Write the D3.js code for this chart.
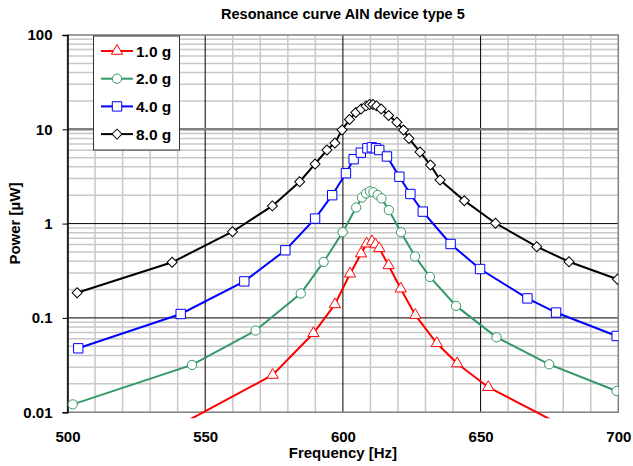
<!DOCTYPE html>
<html>
<head>
<meta charset="utf-8">
<script src="https://cdn.jsdelivr.net/npm/d3@7"></script>
<style>
  body { margin: 0; background: #fff; }
  svg text { font-family: "Liberation Sans", Arial, sans-serif; font-weight: bold; fill: #000; }
</style>
</head>
<body>
<svg id="chart" width="633" height="466"></svg>
<script>
// values
const freq1g = [541, 574.5, 589.3, 597.1, 602.6, 606.6, 608.6, 610.6, 611.8, 613.2, 616.6, 621.0, 626.3, 634.1, 641.5, 652.8, 677.4];
const power1g = [0.0074, 0.0248, 0.0687, 0.139, 0.294, 0.48, 0.612, 0.646, 0.60, 0.547, 0.36, 0.204, 0.107, 0.0538, 0.0328, 0.0184, 0.0078];

const freq2g = [501.9, 545.2, 568.3, 584.7, 593.0, 599.9, 604.8, 606.9, 608.4, 609.8, 611.1, 612.6, 614.0, 616.7, 621.1, 626.2, 631.6, 641.1, 655.8, 674.9, 699.4];
const power2g = [0.0121, 0.0317, 0.0735, 0.1815, 0.392, 0.811, 1.48, 1.89, 2.09, 2.20, 2.15, 2.01, 1.85, 1.39, 0.809, 0.448, 0.272, 0.134, 0.0623, 0.0322, 0.0168];

const freq4g = [503.9, 541.1, 564.2, 579.1, 589.9, 596.1, 601.1, 603.9, 606.5, 608.9, 610.5, 612.0, 613.2, 616.0, 620.5, 624.5, 629.0, 639.1, 649.8, 667.0, 677.4, 699.4];
const power4g = [0.0476, 0.110, 0.244, 0.521, 1.13, 2.00, 3.42, 4.82, 5.65, 6.29, 6.44, 6.29, 6.03, 5.15, 3.14, 2.06, 1.34, 0.608, 0.330, 0.161, 0.114, 0.0643];

const freq8g = [503.5, 538.0, 559.9, 574.4, 584.3, 589.9, 594.2, 597.1, 599.7, 602.4, 604.7, 606.6, 608.4, 609.7, 610.9, 612.2, 613.9, 616.6, 619.6, 622.0, 624.0, 628.0, 631.8, 635.3, 644.1, 655.4, 670.4, 682.1, 699.7];
const power8g = [0.185, 0.389, 0.82, 1.54, 2.78, 4.29, 6.03, 7.16, 9.84, 12.7, 15.1, 16.4, 17.7, 18.3, 18.3, 17.7, 16.4, 14.0, 11.9, 9.84, 7.98, 5.75, 4.18, 2.90, 1.75, 1.01, 0.569, 0.394, 0.257];

const seriesNames = ["1.0 g", "2.0 g", "4.0 g", "8.0 g"];
const seriesColors = ["#ff0000", "#339966", "#0000ff", "#000000"];
const seriesMarkers = ["triangle", "circle", "square", "diamond"];

const xTicks = [500, 550, 600, 650, 700];
const yTicks = [0.01, 0.1, 1, 10, 100];
const yTickLabels = ["0.01", "0.1", "1", "10", "100"];

const series = [
	{ f: freq1g, p: power1g },
	{ f: freq2g, p: power2g },
	{ f: freq4g, p: power4g },
	{ f: freq8g, p: power8g }
].map((s, i) => ({
	name: seriesNames[i],
	color: seriesColors[i],
	marker: seriesMarkers[i],
	values: s.f.map((f, j) => ({ f: f, p: s.p[j] }))
}));

const plotLeft = 67.5, plotRight = 618.3, plotTop = 35, plotBottom = 412.2;

const svg = d3.select('#chart');

const x = d3.scaleLinear().domain([500, 700]).range([plotLeft, plotRight]);
const y = d3.scaleLog().domain([0.01, 100]).range([plotBottom, plotTop]);

// title
svg.append('text')
	.attr('x', (plotLeft + plotRight) / 2)
	.attr('y', 19)
	.attr('text-anchor', 'middle')
	.style('font-size', '14.5px')
	.text('Resonance curve AIN device type 5');

// grid
const grid = svg.append('g').attr('id', 'grid');

const minorX = d3.range(510, 700, 10).filter(v => v % 50 !== 0);
grid.selectAll('.vminor')
	.data(minorX)
	.enter().append('line')
	.attr('x1', d => x(d)).attr('x2', d => x(d))
	.attr('y1', plotTop).attr('y2', plotBottom)
	.attr('stroke', '#c8c8c8')
	.attr('stroke-width', 1.5);

const minorY = [];
yTicks.slice(0, -1).forEach(d => {
	for (let k = 2; k <= 9; k++) minorY.push(d * k);
});
grid.selectAll('.hminor')
	.data(minorY)
	.enter().append('line')
	.attr('x1', plotLeft).attr('x2', plotRight)
	.attr('y1', d => y(d)).attr('y2', d => y(d))
	.attr('stroke', '#c8c8c8')
	.attr('stroke-width', 1.5);

grid.selectAll('.vmajor')
	.data(xTicks.slice(1, -1))
	.enter().append('line')
	.attr('x1', d => x(d)).attr('x2', d => x(d))
	.attr('y1', plotTop).attr('y2', plotBottom)
	.attr('stroke', '#000')
	.attr('stroke-width', 1);

grid.selectAll('.hmajor')
	.data(yTicks.slice(1, -1))
	.enter().append('line')
	.attr('x1', plotLeft).attr('x2', plotRight)
	.attr('y1', d => y(d)).attr('y2', d => y(d))
	.attr('stroke', d => d === 10 ? '#808080' : '#000')
	.attr('stroke-width', d => d === 10 ? 2.5 : 1);

// plot border
svg.append('rect')
	.attr('x', plotLeft).attr('y', plotTop)
	.attr('width', plotRight - plotLeft).attr('height', plotBottom - plotTop)
	.attr('fill', 'none')
	.attr('stroke', '#808080')
	.attr('stroke-width', 1.5);

// axes
const yAxis = svg.append('g')
	.attr('transform', `translate(${plotLeft},0)`)
	.call(d3.axisLeft(y)
		.tickValues(yTicks)
		.tickFormat((d, i) => yTickLabels[i])
		.tickSize(5)
		.tickPadding(10));
yAxis.selectAll('text').style('font-size', '15px');
yAxis.selectAll('line').attr('stroke', '#000');
yAxis.select('.domain').attr('stroke', '#000').attr('stroke-width', 1.5);

const xAxis = svg.append('g')
	.attr('transform', `translate(0,${plotBottom})`)
	.call(d3.axisBottom(x)
		.tickValues(xTicks)
		.tickFormat(d3.format('d'))
		.tickSize(0)
		.tickPadding(19));
xAxis.selectAll('text').style('font-size', '15px');
xAxis.select('.domain').remove();

svg.append('text')
	.attr('x', (plotLeft + plotRight) / 2)
	.attr('y', 458)
	.attr('text-anchor', 'middle')
	.style('font-size', '15px')
	.text('Frequency [Hz]');

svg.append('text')
	.attr('transform', `translate(19.5,${(plotTop + plotBottom) / 2}) rotate(-90)`)
	.attr('text-anchor', 'middle')
	.style('font-size', '15px')
	.text('Power [µW]');

// clip for the curves (a few px of overshoot below the bottom, like the original)
svg.append('clipPath').attr('id', 'plotclip')
	.append('rect')
	.attr('x', plotLeft).attr('y', plotTop)
	.attr('width', plotRight - plotLeft).attr('height', plotBottom - plotTop + 6);

function markerPath(type) {
	if (type === 'triangle') return d3.symbol(d3.symbolTriangle, 55)();
	if (type === 'circle') return d3.symbol(d3.symbolCircle, 68)();
	if (type === 'square') return d3.symbol(d3.symbolSquare, 88)();
	return d3.symbol(d3.symbolSquare, 50)();
}

const line = d3.line()
	.x(d => x(d.f))
	.y(d => y(d.p));

const plot = svg.append('g').attr('clip-path', 'url(#plotclip)');

series.forEach(s => {
	plot.append('path')
		.datum(s.values)
		.attr('d', line)
		.attr('fill', 'none')
		.attr('stroke', s.color)
		.attr('stroke-width', 2);

	plot.selectAll(null)
		.data(s.values.filter(d => d.p >= 0.01))
		.enter().append('path')
		.attr('d', markerPath(s.marker))
		.attr('transform', d => `translate(${x(d.f)},${y(d.p)})` + (s.marker === 'diamond' ? ' rotate(45)' : ''))
		.attr('fill', '#fff')
		.attr('stroke', s.color)
		.attr('stroke-width', 1);
});

// legend
const legend = svg.append('g').attr('id', 'legend');
legend.append('rect')
	.attr('x', 93.5).attr('y', 36)
	.attr('width', 86).attr('height', 114)
	.attr('fill', '#fff')
	.attr('stroke', '#333')
	.attr('stroke-width', 1);

const items = legend.selectAll('.item')
	.data(series)
	.enter().append('g')
	.attr('transform', (d, i) => `translate(0,${51 + i * 27.7})`);

items.append('line')
	.attr('x1', 101).attr('x2', 133)
	.attr('stroke', d => d.color)
	.attr('stroke-width', 2);

items.append('path')
	.attr('d', d => markerPath(d.marker))
	.attr('transform', d => 'translate(117,0)' + (d.marker === 'diamond' ? ' rotate(45)' : ''))
	.attr('fill', '#fff')
	.attr('stroke', d => d.color)
	.attr('stroke-width', 1);

items.append('text')
	.attr('x', 136)
	.attr('y', 5.5)
	.style('font-size', '15.5px')
	.text(d => d.name);
</script>
</body>
</html>
